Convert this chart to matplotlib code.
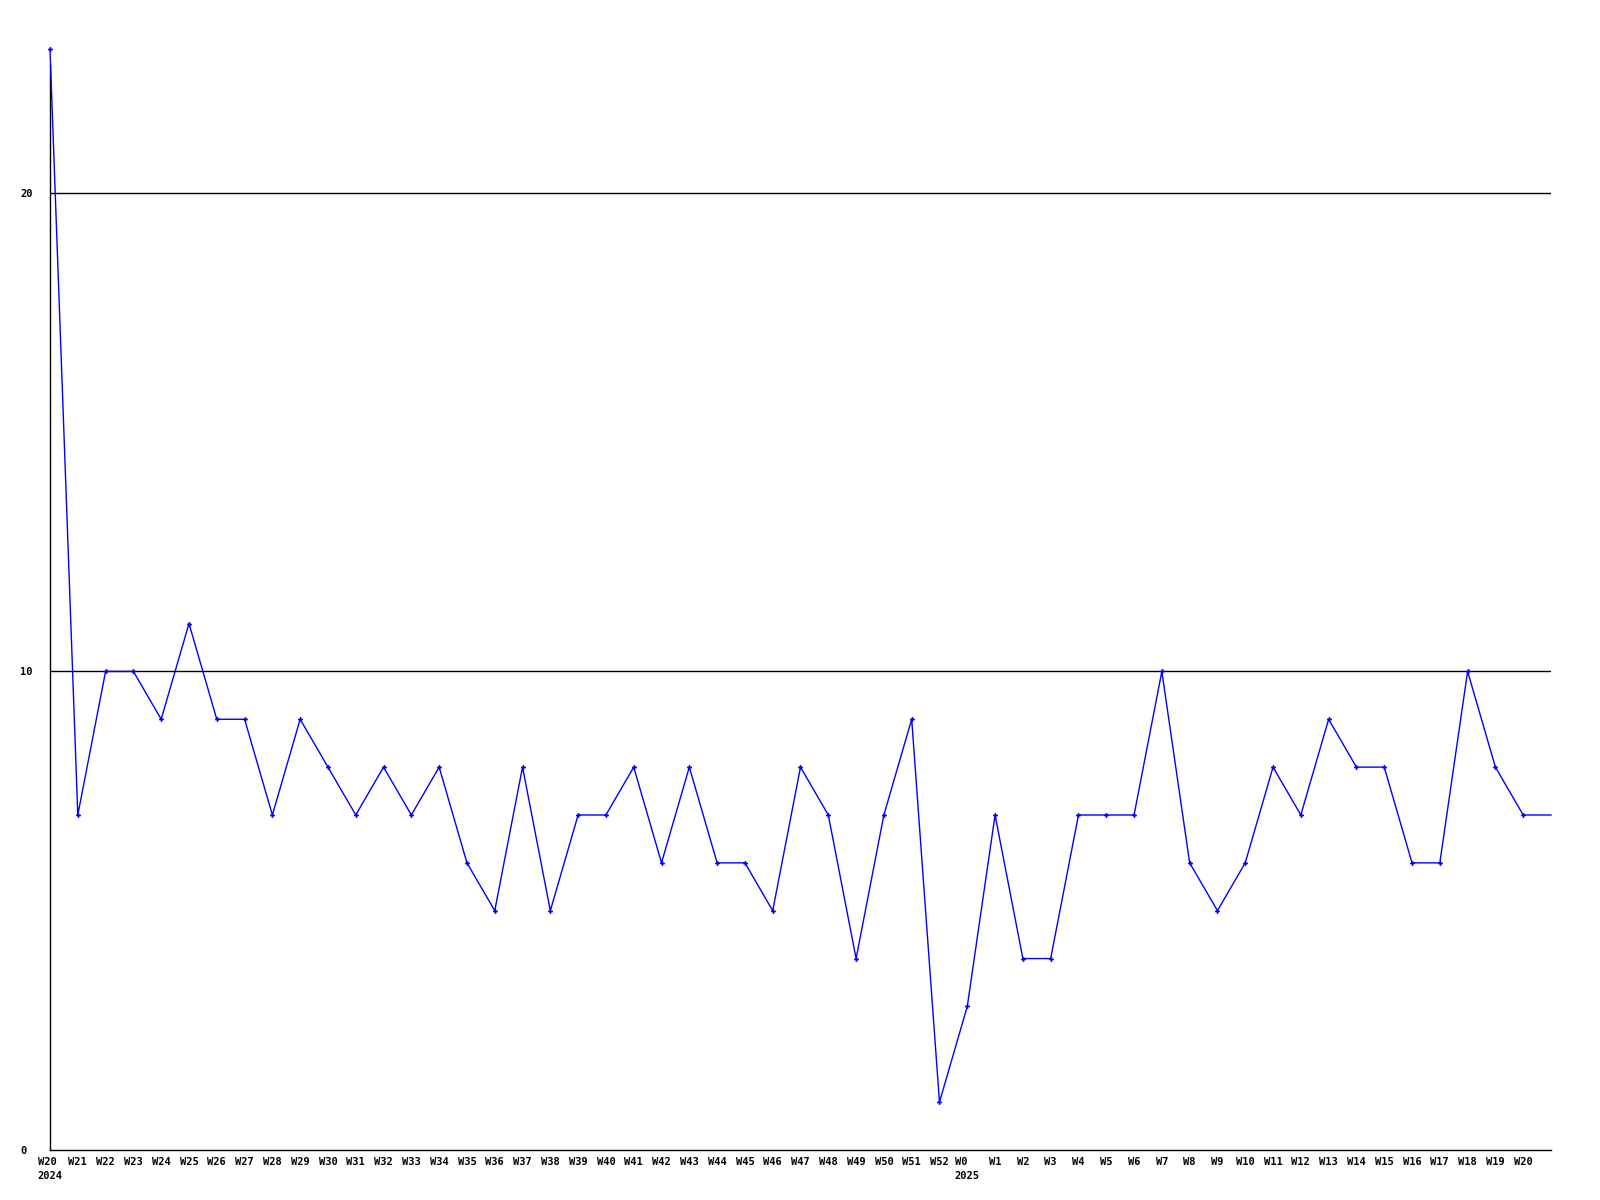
import matplotlib
matplotlib.use("Agg")
import matplotlib.pyplot as plt

weeks_2024 = [f"W{i}" for i in range(20, 53)]
weeks_2025 = [f"W{i}" for i in range(0, 21)]
values_2024 = [23, 7, 10, 10, 9, 11, 9, 9, 7, 9, 8, 7, 8, 7, 8, 6, 5, 8, 5, 7, 7, 8,
               6, 8, 6, 6, 5, 8, 7, 4, 7, 9, 1]
values_2025 = [3, 7, 4, 4, 7, 7, 7, 10, 6, 5, 6, 8, 7, 9, 8, 8, 6, 6, 10, 8, 7]
trailing_value = [7]  # continuation beyond last labelled week (W21 2025)
yticks = [0, 10, 20]

labels = list(weeks_2024) + list(weeks_2025)
labels[0] = labels[0] + "\n2024"
labels[len(weeks_2024)] = labels[len(weeks_2024)] + "\n2025"
values = values_2024 + values_2025
all_values = values + trailing_value
x_all = list(range(len(all_values)))
x_marked = list(range(len(values)))

fig = plt.figure(figsize=(16, 12), dpi=100)
ax = fig.add_axes([50/1600, 1 - 1150/1200, 1501/1600, 24*47.86/1200])

for y in [10, 20]:
    ax.axhline(y, color="black", lw=1.0, zorder=1)

ax.plot(x_all, all_values, color="#0000ff", lw=1.0, zorder=3, clip_on=False)
ax.plot(x_marked, values, linestyle="none", marker="P", ms=3.5, color="#0000ff",
        markeredgewidth=0, zorder=4, clip_on=False)

ax.set_xlim(0, 54)
ax.set_ylim(0, 24)
ax.set_xticks(x_marked)
ax.set_xticklabels(labels, family="DejaVu Sans Mono", fontweight="bold", fontsize=7.5,
                   ha="center", multialignment="left", linespacing=1.5)
ax.set_yticks(yticks)
ax.set_yticklabels([str(v) for v in yticks], family="DejaVu Sans Mono",
                   fontweight="bold", fontsize=7.5, ha="left")
ax.tick_params(axis="y", length=0, pad=21.6)
ax.tick_params(axis="x", length=0, pad=5)

for s in ["top", "right"]:
    ax.spines[s].set_visible(False)
for s in ["left", "bottom"]:
    ax.spines[s].set_color("black")
    ax.spines[s].set_linewidth(1.0)
ax.spines["left"].set_bounds(0, 22.67)

fig.savefig("out.png", dpi=100)
